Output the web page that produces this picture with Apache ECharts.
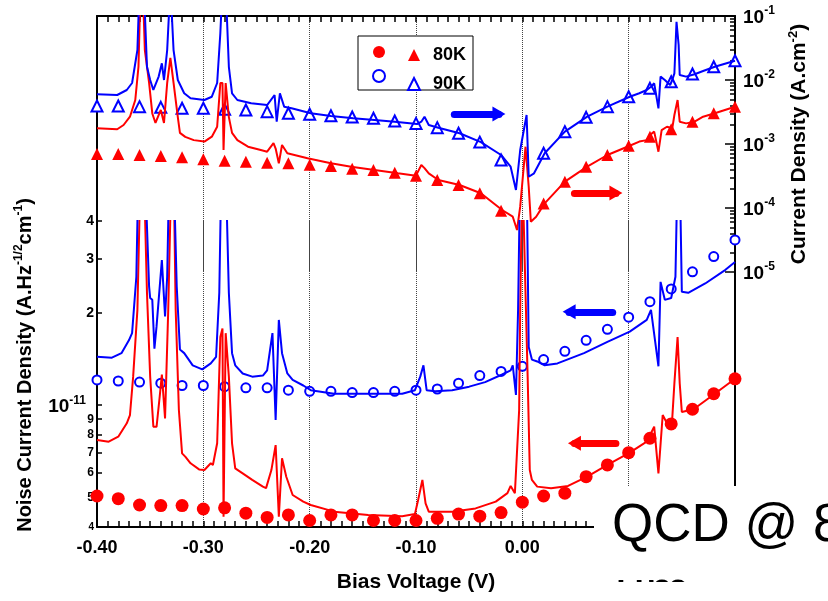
<!DOCTYPE html>
<html>
<head>
<meta charset="utf-8">
<script src="https://cdn.jsdelivr.net/npm/echarts@6/dist/echarts.min.js"></script>
<style>
html, body { margin: 0; padding: 0; background: #fff; }
#chart { width: 828px; height: 601px; }
</style>
</head>
<body>
<div id="chart"></div>
<script>
// ---- data ----
// marker voltages (V), every 20 mV
const markerV = [-0.40,-0.38,-0.36,-0.34,-0.32,-0.30,-0.28,-0.26,-0.24,-0.22,-0.20,-0.18,-0.16,-0.14,-0.12,-0.10,-0.08,-0.06,-0.04,-0.02,0.00,0.02,0.04,0.06,0.08,0.10,0.12,0.14,0.16,0.18,0.20];
// current density markers (A/cm2), right axis
const jMark80 = [6.98e-4,6.98e-4,6.73e-4,6.49e-4,6.2e-4,5.77e-4,5.48e-4,5.29e-4,5.1e-4,4.99e-4,4.75e-4,4.53e-4,4.11e-4,3.92e-4,3.56e-4,3.2e-4,2.74e-4,2.29e-4,1.7e-4,9.07e-5,null,1.18e-4,2.58e-4,4.42e-4,6.73e-4,9.4e-4,1.3e-3,1.7e-3,2.23e-3,3.02e-3,3.83e-3];
const jMark90 = [3.93e-3,3.93e-3,3.83e-3,3.74e-3,3.61e-3,3.61e-3,3.48e-3,3.4e-3,3.2e-3,3.02e-3,2.91e-3,2.77e-3,2.64e-3,2.52e-3,2.29e-3,2.1e-3,1.8e-3,1.47e-3,1.07e-3,5.62e-4,null,7.16e-4,1.56e-3,2.61e-3,3.83e-3,5.48e-3,7.41e-3,9.4e-3,1.24e-2,1.61e-2,2.0e-2];
// noise current density markers (A Hz^-1/2 cm^-1), left axis
const nMark80 = [5.05e-12,4.95e-12,4.72e-12,4.70e-12,4.70e-12,4.58e-12,4.62e-12,4.44e-12,4.30e-12,4.38e-12,4.20e-12,4.38e-12,4.38e-12,4.20e-12,4.20e-12,4.20e-12,4.27e-12,4.41e-12,4.34e-12,4.46e-12,4.82e-12,5.05e-12,5.16e-12,5.84e-12,6.38e-12,7.0e-12,7.8e-12,8.69e-12,9.7e-12,1.09e-11,1.22e-11];
const nMark90 = [1.21e-11,1.20e-11,1.19e-11,1.18e-11,1.16e-11,1.16e-11,1.15e-11,1.14e-11,1.14e-11,1.12e-11,1.11e-11,1.11e-11,1.10e-11,1.10e-11,1.11e-11,1.12e-11,1.13e-11,1.18e-11,1.25e-11,1.29e-11,1.34e-11,1.41e-11,1.50e-11,1.63e-11,1.77e-11,1.94e-11,2.18e-11,2.40e-11,2.73e-11,3.06e-11,3.47e-11];

// measured curves (spikes that leave the frame are clipped by the grid)
const jLine80V = [-0.400,-0.381,-0.375,-0.369,-0.364,-0.361,-0.359,-0.357,-0.355,-0.351,-0.348,-0.345,-0.340,-0.339,-0.337,-0.334,-0.331,-0.328,-0.324,-0.322,-0.317,-0.309,-0.299,-0.292,-0.287,-0.284,-0.282,-0.281,-0.279,-0.276,-0.273,-0.268,-0.258,-0.246,-0.240,-0.234,-0.232,-0.229,-0.226,-0.221,-0.202,-0.180,-0.161,-0.139,-0.117,-0.100,-0.095,-0.092,-0.088,-0.079,-0.059,-0.039,-0.019,-0.009,-0.005,-0.002,0.003,0.006,0.008,0.013,0.021,0.040,0.061,0.080,0.101,0.110,0.117,0.120,0.124,0.128,0.131,0.136,0.141,0.143,0.146,0.148,0.154,0.162,0.170,0.181,0.200];
const jLine80 = [1.76e-3,1.70e-3,1.98e-3,2.67e-3,4.87e-3,1.61e-2,0.3,0.3,2.94e-2,8.98e-3,3.0e-3,2.13e-3,3.4e-3,3.3e-3,2.13e-3,8.98e-3,2.21e-2,8.98e-3,2.63e-3,1.49e-3,1.29e-3,1.15e-3,1.09e-3,1.30e-3,1.86e-3,8.98e-3,8.98e-3,8.06e-4,8.98e-3,2.63e-3,1.49e-3,1.15e-3,9.07e-4,8.06e-4,7.58e-4,1.03e-3,8.5e-4,4.99e-4,9.64e-4,7.16e-4,5.98e-4,4.99e-4,4.42e-4,3.92e-4,3.48e-4,3.2e-4,4.7e-4,4.2e-4,3.48e-4,2.74e-4,2.29e-4,1.7e-4,9.3e-5,7.31e-5,4.53e-5,1.05e-4,9.07e-4,2.15e-4,6.11e-5,7.31e-5,1.18e-4,2.58e-4,4.42e-4,6.73e-4,9.4e-4,1.09e-3,1.15e-3,1.38e-3,1.56e-3,7.58e-4,1.65e-3,1.86e-3,1.76e-3,2.84e-3,4.87e-3,2.23e-3,2.1e-3,2.23e-3,2.67e-3,3.02e-3,3.83e-3];
const jLine90V = [-0.400,-0.381,-0.372,-0.367,-0.362,-0.360,-0.356,-0.353,-0.350,-0.347,-0.342,-0.339,-0.337,-0.334,-0.331,-0.328,-0.324,-0.318,-0.312,-0.299,-0.292,-0.287,-0.284,-0.282,-0.279,-0.276,-0.273,-0.268,-0.255,-0.240,-0.233,-0.231,-0.228,-0.224,-0.217,-0.199,-0.180,-0.159,-0.139,-0.120,-0.099,-0.095,-0.092,-0.088,-0.079,-0.059,-0.039,-0.020,-0.011,-0.006,-0.002,0.004,0.006,0.011,0.021,0.040,0.061,0.080,0.101,0.110,0.117,0.121,0.124,0.128,0.130,0.134,0.139,0.141,0.143,0.145,0.147,0.148,0.154,0.162,0.170,0.181,0.200];
const jLine90 = [5.98e-3,5.83e-3,6.98e-3,8.98e-3,2.94e-2,0.3,0.3,1.61e-2,1.0e-2,6.98e-3,1.13e-2,1.82e-2,1.0e-2,2.94e-2,0.3,2.94e-2,1.0e-2,6.2e-3,5.17e-3,4.87e-3,5.48e-3,8.98e-3,5.42e-2,0.3,0.3,1.61e-2,6.2e-3,4.87e-3,4.32e-3,4.06e-3,5.83e-3,2.23e-3,6.2e-3,3.83e-3,3.61e-3,3.02e-3,2.74e-3,2.52e-3,2.37e-3,2.23e-3,2.05e-3,2.23e-3,2.67e-3,1.98e-3,1.8e-3,1.47e-3,1.07e-3,6.73e-4,4.42e-4,1.91e-4,8.06e-4,2.84e-3,3.08e-4,3.48e-4,7.16e-4,1.56e-3,2.67e-3,3.83e-3,5.48e-3,6.2e-3,6.98e-3,7.86e-3,8.88e-3,3.61e-3,1.13e-2,1.0e-2,8.35e-3,1.0e-2,1.27e-2,8.1e-2,3.52e-2,1.2e-2,1.13e-2,1.23e-2,1.38e-2,1.61e-2,2.0e-2];
const nLine80V = [-0.400,-0.389,-0.380,-0.372,-0.369,-0.366,-0.362,-0.359,-0.356,-0.353,-0.350,-0.347,-0.344,-0.341,-0.339,-0.336,-0.333,-0.330,-0.328,-0.326,-0.323,-0.320,-0.317,-0.312,-0.304,-0.299,-0.293,-0.291,-0.287,-0.284,-0.282,-0.281,-0.279,-0.276,-0.273,-0.270,-0.263,-0.254,-0.244,-0.241,-0.236,-0.232,-0.229,-0.226,-0.222,-0.216,-0.206,-0.199,-0.177,-0.145,-0.113,-0.101,-0.098,-0.094,-0.091,-0.088,-0.066,-0.044,-0.025,-0.014,-0.011,-0.007,-0.003,-0.002,0.000,0.001,0.005,0.007,0.009,0.014,0.027,0.043,0.061,0.080,0.101,0.117,0.124,0.128,0.132,0.136,0.141,0.143,0.146,0.148,0.150,0.161,0.181,0.200];
const nLine80 = [7.7e-12,7.6e-12,7.89e-12,8.73e-12,9.29e-12,1.24e-11,2.05e-11,6e-11,6e-11,2.33e-11,1.24e-11,8.51e-12,8.5e-12,1.07e-11,1.26e-11,9.06e-12,2.05e-11,6e-11,6e-11,2.05e-11,9.65e-12,6.96e-12,6.79e-12,6.46e-12,6.17e-12,6.14e-12,6.46e-12,6.38e-12,7.51e-12,1.67e-11,1.78e-11,4.32e-12,1.72e-11,1.24e-11,7.51e-12,6.22e-12,5.99e-12,5.70e-12,5.42e-12,5.36e-12,6.14e-12,7.41e-12,4.32e-12,6.71e-12,5.84e-12,5.09e-12,4.84e-12,4.72e-12,4.49e-12,4.38e-12,4.34e-12,4.41e-12,4.90e-12,5.70e-12,4.78e-12,4.49e-12,4.49e-12,4.60e-12,4.84e-12,5.16e-12,5.45e-12,5.16e-12,9.65e-12,2.05e-11,6e-11,6e-11,1.24e-11,6.14e-12,5.70e-12,5.42e-12,5.35e-12,5.45e-12,5.84e-12,6.38e-12,7.0e-12,7.6e-12,8.51e-12,5.99e-12,9.29e-12,8.73e-12,9.06e-12,1.18e-11,1.67e-11,1.18e-11,9.5e-12,9.7e-12,1.09e-11,1.22e-11];
const nLine90V = [-0.400,-0.386,-0.377,-0.370,-0.367,-0.363,-0.361,-0.355,-0.351,-0.350,-0.348,-0.346,-0.344,-0.339,-0.336,-0.334,-0.332,-0.328,-0.325,-0.322,-0.318,-0.310,-0.301,-0.293,-0.288,-0.285,-0.283,-0.279,-0.276,-0.273,-0.270,-0.263,-0.254,-0.244,-0.240,-0.235,-0.232,-0.229,-0.226,-0.221,-0.216,-0.206,-0.199,-0.177,-0.145,-0.113,-0.101,-0.096,-0.093,-0.090,-0.082,-0.066,-0.050,-0.035,-0.019,-0.011,-0.009,-0.006,-0.004,-0.002,0.004,0.006,0.009,0.014,0.021,0.033,0.058,0.080,0.101,0.117,0.121,0.128,0.130,0.134,0.140,0.144,0.146,0.148,0.150,0.156,0.172,0.191,0.200];
const nLine90 = [1.44e-11,1.43e-11,1.48e-11,1.63e-11,1.72e-11,2.63e-11,6e-11,6e-11,2.44e-11,2.24e-11,2.21e-11,1.53e-11,1.81e-11,2.98e-11,1.95e-11,2.63e-11,6e-11,6e-11,2.44e-11,1.52e-11,1.48e-11,1.35e-11,1.31e-11,1.37e-11,1.44e-11,2.33e-11,6e-11,6e-11,2.33e-11,1.48e-11,1.35e-11,1.27e-11,1.24e-11,1.25e-11,1.30e-11,1.72e-11,8.95e-12,1.90e-11,1.48e-11,1.27e-11,1.21e-11,1.16e-11,1.12e-11,1.09e-11,1.09e-11,1.09e-11,1.12e-11,1.24e-11,1.35e-11,1.12e-11,1.11e-11,1.12e-11,1.15e-11,1.19e-11,1.26e-11,1.30e-11,1.35e-11,1.08e-11,2.05e-11,6e-11,6e-11,1.55e-11,1.41e-11,1.39e-11,1.35e-11,1.37e-11,1.48e-11,1.61e-11,1.74e-11,1.90e-11,2.05e-11,1.34e-11,2.53e-11,2.21e-11,2.24e-11,2.63e-11,6e-11,6e-11,2.35e-11,2.33e-11,2.50e-11,2.77e-11,2.94e-11];

// axis ticks
const noiseTicks = [4e-12,5e-12,6e-12,7e-12,8e-12,9e-12,1e-11,2e-11,3e-11,4e-11];
const noiseTickText = ['4','5','6','7','8','9','10^-11','2','3','4'];
const currentDecades = [-5,-4,-3,-2,-1];

// arrows: [v start, v end, level]
const arrowJ90 = [-0.064, -0.022, 2.94e-3];
const arrowJ80 = [0.049, 0.088, 1.71e-4];
const arrowN90 = [0.085, 0.044, 2.02e-11];
const arrowN80 = [0.088, 0.049, 7.51e-12];

const RED = '#ff0000';
const BLUE = '#0000ff';
const FONT = '"Liberation Sans", Arial, sans-serif';

const lg = Math.log10;
const pts = (xs, ys) => xs.map((x, i) => [x, ys[i]]).filter(p => p[1] != null).map(p => [p[0], lg(p[1])]);

const currentMinor = [];
currentDecades.slice(0, 4).forEach(d => { for (let k = 2; k <= 9; k++) currentMinor.push(d + lg(k)); });

function arrow(a, color) {
    return {
        silent: true,
        symbol: ['none', 'triangle'],
        symbolSize: [15, 13],
        label: { show: false },
        emphasis: { disabled: true },
        lineStyle: { color: color, width: 7, type: 'solid', cap: 'round', opacity: 1 },
        data: [[{ coord: [a[0], lg(a[2])] }, { coord: [a[1], lg(a[2])] }]]
    };
}

const chart = echarts.init(document.getElementById('chart'));

const lineBase = { type: 'line', showSymbol: false, symbol: 'none', silent: true, clip: true };
const frameLine = { show: true, onZero: false, lineStyle: { color: '#000', width: 2 } };

const option = {
    animation: false,
    backgroundColor: '#fff',
    textStyle: { fontFamily: FONT },
    grid: [
        // noise (bottom part)
        { left: 97, right: 93, top: 221, bottom: 74, outerBoundsMode: 'none' },
        // current density (upper part)
        { left: 97, right: 93, top: 16, bottom: 329, outerBoundsMode: 'none' }
    ],
    legend: [
        {
            left: 358, top: 36, orient: 'vertical',
            data: ['80K noise', '90K noise'],
            formatter: () => '',
            itemWidth: 12, itemHeight: 12, itemGap: 11,
            padding: [10, 83, 7, 14],
            borderColor: '#000', borderWidth: 1, backgroundColor: '#fff',
            textStyle: { fontSize: 12, lineHeight: 12 },
            selectedMode: false
        },
        {
            left: 407, top: 46, orient: 'vertical', z: 6,
            data: ['80K', '90K'],
            itemWidth: 12, itemHeight: 12, itemGap: 11,
            padding: 0,
            textStyle: { fontFamily: FONT, fontWeight: 'bold', fontSize: 18, lineHeight: 12, color: '#000', padding: [0, 0, 0, 8] },
            selectedMode: false
        }
    ],
    xAxis: [
        {
            gridIndex: 0, type: 'value', position: 'bottom',
            min: -0.4, max: 0.2, interval: 0.1,
            axisLine: frameLine,
            axisTick: { inside: true, length: 6, lineStyle: { color: '#000', width: 1.5 } },
            minorTick: { show: true, splitNumber: 10, length: 6, lineStyle: { color: '#000', width: 1.5 } },
            axisLabel: {
                margin: 12, color: '#000', fontFamily: FONT, fontWeight: 'bold', fontSize: 18,
                formatter: v => (Math.abs(v) < 1e-9 ? 0 : v).toFixed(2)
            },
            splitLine: { show: true, lineStyle: { color: '#444', type: 'dotted', width: 1 } },
            name: 'Bias Voltage (V)', nameLocation: 'middle', nameGap: 45,
            nameTextStyle: { color: '#000', fontFamily: FONT, fontWeight: 'bold', fontSize: 21 }
        },
        {
            gridIndex: 1, type: 'value', position: 'top',
            min: -0.4, max: 0.2, interval: 0.1,
            axisLine: frameLine,
            axisTick: { inside: true, length: 6, lineStyle: { color: '#000', width: 1.5 } },
            minorTick: { show: true, splitNumber: 10, length: 6, lineStyle: { color: '#000', width: 1.5 } },
            axisLabel: { show: false },
            splitLine: { show: true, lineStyle: { color: '#444', type: 'dotted', width: 1 } }
        }
    ],
    yAxis: [
        {   // 0: noise, left
            gridIndex: 0, type: 'value', position: 'left',
            min: lg(4e-12), max: lg(4e-11),
            axisLine: frameLine,
            axisTick: { show: true, inside: true, length: 5, customValues: noiseTicks.map(lg), lineStyle: { color: '#000', width: 1.5 } },
            axisLabel: {
                show: true, margin: 3, color: '#000', fontFamily: FONT, fontWeight: 'bold',
                customValues: noiseTicks.map(lg),
                formatter: v => {
                    let i = 0, best = 1e9;
                    noiseTicks.forEach((t, k) => { const d = Math.abs(lg(t) - v); if (d < best) { best = d; i = k; } });
                    const t = noiseTickText[i];
                    if (t.indexOf('^') > 0) { const p = t.split('^'); return '{big|' + p[0] + '}{sup|' + p[1] + '}'; }
                    if (i === 0) return '{xs|' + t + '}';
                    if (i < 6) return '{s|' + t + '}';
                    return '{m|' + t + '}';
                },
                rich: {
                    xs: { fontSize: 10, fontWeight: 'bold', fontFamily: FONT, color: '#000' },
                    s: { fontSize: 12, fontWeight: 'bold', fontFamily: FONT, color: '#000' },
                    m: { fontSize: 14, fontWeight: 'bold', fontFamily: FONT, color: '#000' },
                    big: { fontSize: 19, fontWeight: 'bold', fontFamily: FONT, color: '#000', lineHeight: 22, verticalAlign: 'bottom' },
                    sup: { fontSize: 12, fontWeight: 'bold', fontFamily: FONT, color: '#000', lineHeight: 12, verticalAlign: 'top', padding: [0, 8, 0, 0] }
                }
            },
            splitLine: { show: false },
            name: 'Noise Current Density (A.Hz{sup|-1/2}cm{sup|-1})',
            nameLocation: 'middle', nameGap: 60, nameRotate: 90,
            nameTextStyle: {
                color: '#000', fontFamily: FONT, fontWeight: 'bold', fontSize: 20, lineHeight: 24,
                padding: [0, 0, 0, 18],
                rich: { sup: { fontSize: 12, fontWeight: 'bold', fontFamily: FONT, color: '#000', lineHeight: 12, verticalAlign: 'top' } }
            }
        },
        {   // 1: right frame of noise part
            gridIndex: 0, type: 'value', position: 'right',
            min: lg(4e-12), max: lg(4e-11),
            axisLine: frameLine,
            axisTick: { show: false }, axisLabel: { show: false }, splitLine: { show: false }
        },
        {   // 2: current density, right
            gridIndex: 1, type: 'value', position: 'right',
            min: -5, max: -1, interval: 1,
            axisLine: frameLine,
            axisTick: { show: true, inside: true, length: 10, lineStyle: { color: '#000', width: 1.5 } },
            axisLabel: {
                margin: 8, color: '#000', fontFamily: FONT,
                formatter: v => '{big|10}{sup|' + v + '}',
                rich: {
                    big: { fontSize: 19, fontWeight: 'bold', fontFamily: FONT, color: '#000', lineHeight: 22, verticalAlign: 'bottom' },
                    sup: { fontSize: 12, fontWeight: 'bold', fontFamily: FONT, color: '#000', lineHeight: 12, verticalAlign: 'top' }
                }
            },
            splitLine: { show: false },
            name: 'Current Density (A.cm{sup|-2})',
            nameLocation: 'middle', nameGap: 52, nameRotate: 90,
            nameTextStyle: {
                color: '#000', fontFamily: FONT, fontWeight: 'bold', fontSize: 21, lineHeight: 24,
                rich: { sup: { fontSize: 13, fontWeight: 'bold', fontFamily: FONT, color: '#000', lineHeight: 12, verticalAlign: 'top' } }
            }
        },
        {   // 3: log minor ticks of current density axis
            gridIndex: 1, type: 'value', position: 'right',
            min: -5, max: -1,
            axisLine: { show: false, onZero: false },
            axisTick: { show: true, inside: true, length: 5, customValues: currentMinor, lineStyle: { color: '#000', width: 1.5 } },
            axisLabel: { show: false }, splitLine: { show: false }
        },
        {   // 4: left frame of current part
            gridIndex: 1, type: 'value', position: 'left',
            min: -5, max: -1,
            axisLine: frameLine,
            axisTick: { show: false }, axisLabel: { show: false }, splitLine: { show: false }
        }
    ],
    series: [
        Object.assign({}, lineBase, { name: 'J 80K', xAxisIndex: 1, yAxisIndex: 2, data: pts(jLine80V, jLine80), lineStyle: { color: RED, width: 2 }, itemStyle: { color: RED }, markLine: arrow(arrowJ80, RED) }),
        Object.assign({}, lineBase, { name: 'J 90K', xAxisIndex: 1, yAxisIndex: 2, data: pts(jLine90V, jLine90), lineStyle: { color: BLUE, width: 2 }, itemStyle: { color: BLUE }, markLine: arrow(arrowJ90, BLUE) }),
        Object.assign({}, lineBase, { name: 'N 80K', xAxisIndex: 0, yAxisIndex: 0, data: pts(nLine80V, nLine80), lineStyle: { color: RED, width: 2 }, itemStyle: { color: RED }, markLine: arrow(arrowN80, RED) }),
        Object.assign({}, lineBase, { name: 'N 90K', xAxisIndex: 0, yAxisIndex: 0, data: pts(nLine90V, nLine90), lineStyle: { color: BLUE, width: 2 }, itemStyle: { color: BLUE }, markLine: arrow(arrowN90, BLUE) }),
        {
            name: '80K', type: 'scatter', xAxisIndex: 1, yAxisIndex: 2, silent: true,
            symbol: 'triangle', symbolSize: 12,
            itemStyle: { color: RED, opacity: 1 },
            data: pts(markerV, jMark80)
        },
        {
            name: '90K', type: 'scatter', xAxisIndex: 1, yAxisIndex: 2, silent: true,
            symbol: 'triangle', symbolSize: 11,
            itemStyle: { color: '#fff', borderColor: BLUE, borderWidth: 2, opacity: 1 },
            data: pts(markerV, jMark90)
        },
        {
            name: '80K noise', type: 'scatter', xAxisIndex: 0, yAxisIndex: 0, silent: true,
            symbol: 'circle', symbolSize: 13,
            itemStyle: { color: RED, opacity: 1 },
            data: pts(markerV, nMark80)
        },
        {
            name: '90K noise', type: 'scatter', xAxisIndex: 0, yAxisIndex: 0, silent: true,
            symbol: 'circle', symbolSize: 9,
            itemStyle: { color: '#fff', borderColor: BLUE, borderWidth: 2, opacity: 1 },
            data: pts(markerV, nMark90)
        }
    ],
    graphic: [
        { type: 'rect', z: 100, shape: { x: 594, y: 486, width: 234, height: 115 }, style: { fill: '#fff' } },
        { type: 'text', z: 101, x: 612, y: 500, style: { text: 'QCD @ 8', font: '53px ' + FONT, fill: '#000', verticalAlign: 'top' } },
        { type: 'text', z: 101, x: 615, y: 567, style: { text: 'μm', font: '53px ' + FONT, fill: '#000', verticalAlign: 'top' } },
        { type: 'rect', z: 102, shape: { x: 594, y: 582, width: 234, height: 19 }, style: { fill: '#fff' } }
    ]
};

chart.setOption(option);
</script>
</body>
</html>
